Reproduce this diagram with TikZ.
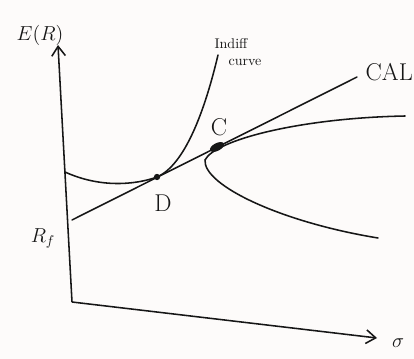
\documentclass[tikz,border=0pt]{standalone}
\usepackage{amsmath}
\usepackage{xcolor}
\usepackage{tikz}
\usetikzlibrary{arrows.meta,positioning,shapes.geometric}
\definecolor{ink}{HTML}{161616}
\definecolor{paper}{HTML}{FDFBFA}
\tikzset{
  axisline/.style={-{Straight Barb[length=2.4mm,width=3.4mm]},line width=1.1pt,draw=ink},
  curveline/.style={line width=1.1pt,draw=ink,line cap=round},
  handlabel/.style={font=\Large,text=ink,inner sep=1pt},
  pointlabel/.style={font=\LARGE,text=ink,inner sep=1pt},
  smalllabel/.style={font=\normalsize,text=ink,inner sep=1pt,align=left},
  tangentdot/.style={circle,fill=ink,inner sep=0pt,minimum size=4.5pt},
  blobdot/.style={ellipse,fill=ink,inner sep=0pt,minimum width=11pt,minimum height=5.5pt,rotate=27}
}

\begin{document}
\begin{tikzpicture}[x=0.025cm,y=-0.025cm]
\fill[paper] (0,0) rectangle (414,359);
\useasboundingbox (0,0) rectangle (414,359);
\coordinate (origin) at (72,302);
\coordinate (yend) at (58,45);
\coordinate (xend) at (377,338);
\draw[axisline] (origin) -- (yend);
\draw[axisline] (origin) -- (xend);
\node[handlabel] (ylabel) at (40,35) {$E(R)$};
\node[handlabel] (xlabel) at (398,343) {$\sigma$};
\node[handlabel] (rf) at (43,238) {$R_f$};
\coordinate (calstart) at (72,220);
\coordinate (calend) at (357,77);
\node[tangentdot] (D) at (157,177) {};
\node[blobdot] (C) at (217,147) {};
\draw[curveline] (calstart) -- (calend);
\node[pointlabel,anchor=west] (callabel) at (364,72) {CAL};
\coordinate (icstart) at (65,172);
\coordinate (icend) at (218,55);
\draw[curveline] (icstart) .. controls (100,188) and (135,185) .. (D.center)
  .. controls (185,165) and (205,110) .. (icend);
\node[smalllabel] (iclabel) at (238,52) {Indiff\\\quad curve};
\coordinate (efup) at (405,116);
\coordinate (vertex) at (205,160);
\coordinate (eflow) at (378,238);
\draw[curveline] (efup) .. controls (300,118) and (215,140) .. (vertex)
  .. controls (203,185) and (280,222) .. (eflow);
\node[pointlabel] (clabel) at (219,127) {C};
\node[pointlabel] (dlabel) at (163,203) {D};
\end{tikzpicture}
\end{document}
